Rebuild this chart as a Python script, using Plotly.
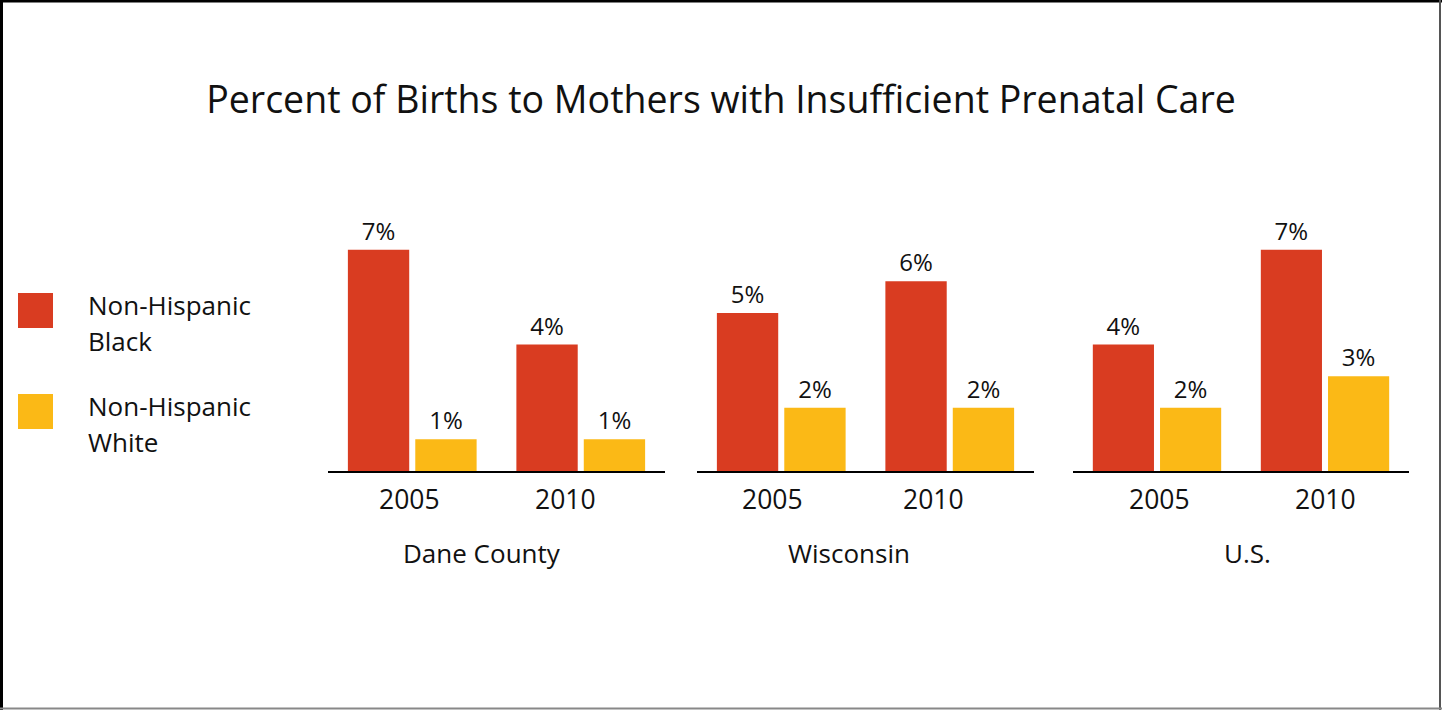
import plotly.graph_objects as go

W, H = 1442, 710

TITLE = "Percent of Births to Mothers with Insufficient Prenatal Care"
REGIONS = ["Dane County", "Wisconsin", "U.S."]
YEARS = ["2005", "2010"]
SERIES = ["Non-Hispanic Black", "Non-Hispanic White"]
BLACK_PCT = [[7, 4], [5, 6], [4, 7]]
WHITE_PCT = [[1, 1], [2, 2], [2, 3]]

RED = "#D93C21"
GOLD = "#FBB916"
FONT = "Open Sans, sans-serif"
INK = "#111111"

# pixel layout of the three panels (left, right of the axis line)
PANEL_PX = [(328, 665), (697, 1034), (1073, 1409)]
YEAR_LABEL_PX = [(409, 565), (772, 933), (1159, 1325)]
LABEL_PX = [482, 849, 1247]
BASE_PX, TOP_PX = 471, 218


def px_x(x):
    return x / W


def px_y(y):
    return 1 - y / H


def text_at(x, y, text, size, anchor="center"):
    fig.add_annotation(
        x=px_x(x), y=px_y(y), xref="paper", yref="paper",
        text=text, showarrow=False, xanchor=anchor, yanchor="middle",
        font=dict(size=size, color=INK, family=FONT),
    )


fig = go.Figure()

for i, region in enumerate(REGIONS):
    ax = "" if i == 0 else str(i + 1)
    for name, vals, color in [(SERIES[0], BLACK_PCT[i], RED), (SERIES[1], WHITE_PCT[i], GOLD)]:
        fig.add_trace(go.Bar(
            x=YEARS, y=vals, name=name, marker=dict(color=color, line_width=0),
            texttemplate="%{y}%", textposition="outside", cliponaxis=False,
            textfont=dict(size=24, color=INK, family=FONT),
            xaxis="x" + ax, yaxis="y" + ax, showlegend=False, hoverinfo="skip",
        ))
    left, right = PANEL_PX[i]
    fig.update_layout(**{
        "xaxis" + ax: dict(
            domain=[px_x(left), px_x(right)], range=[-0.5, 1.5], anchor="y" + ax,
            showline=True, linecolor="black", linewidth=2, showgrid=False,
            zeroline=False, ticks="", showticklabels=False,
        ),
        "yaxis" + ax: dict(
            domain=[px_y(BASE_PX), px_y(TOP_PX)], range=[0, 8], anchor="x" + ax,
            visible=False,
        ),
    })
    # year labels sit a little left of the bar pairs in the original
    for year, xpos in zip(YEARS, YEAR_LABEL_PX[i]):
        text_at(xpos, 499, year, 26.5)
    text_at(LABEL_PX[i], 553, region, 26)

# legend drawn by hand: big squares + two-line labels
shapes = []
for name, color, top in [(SERIES[0], RED, 293), (SERIES[1], GOLD, 394)]:
    shapes.append(dict(type="rect", xref="paper", yref="paper",
                       x0=px_x(18), x1=px_x(53), y0=px_y(top + 35), y1=px_y(top),
                       fillcolor=color, line_width=0))
    first, second = name.rsplit(" ", 1)
    for j, line in enumerate([first, second]):
        text_at(86, top + 12 + 36 * j, line, 26, anchor="left")

# frame
shapes += [
    dict(type="line", xref="paper", yref="paper", x0=0, x1=1, y0=px_y(1), y1=px_y(1),
         line=dict(color="black", width=3)),
    dict(type="line", xref="paper", yref="paper", x0=px_x(1.5), x1=px_x(1.5), y0=0, y1=1,
         line=dict(color="black", width=3)),
    dict(type="line", xref="paper", yref="paper", x0=px_x(1440), x1=px_x(1440), y0=0, y1=1,
         line=dict(color="#555555", width=2)),
    dict(type="line", xref="paper", yref="paper", x0=0, x1=1, y0=px_y(708.5), y1=px_y(708.5),
         line=dict(color="#888888", width=2)),
]

fig.update_layout(
    width=W, height=H,
    margin=dict(l=0, r=0, t=0, b=0),
    paper_bgcolor="white", plot_bgcolor="white",
    barmode="group", bargap=0.2, bargroupgap=0.09,
    font=dict(family=FONT, color=INK),
    title=dict(text=TITLE, x=0.5, xanchor="center", y=px_y(100), yanchor="middle",
               font=dict(size=37.5, color=INK, family=FONT)),
    shapes=shapes,
    showlegend=False,
)

# drop the browser's default body margin so the figure sits at (0, 0)
fig.write_html(
    "out.html",
    config={"displayModeBar": False},
    post_script="document.body.style.margin='0';document.body.style.overflow='hidden';",
)
